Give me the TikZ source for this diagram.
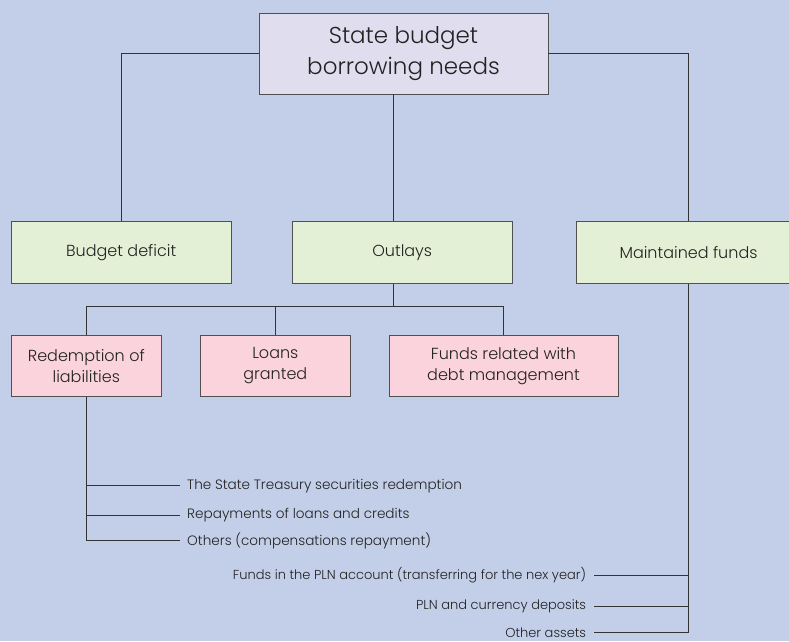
\documentclass[tikz,border=0pt]{standalone}
\usepackage{fontspec}
\setmainfont{Poppins}[UprightFont=* Light]
\definecolor{bgc}{HTML}{C3CFE8}
\definecolor{topfill}{HTML}{E0DDEF}
\definecolor{greenfill}{HTML}{E3F0D5}
\definecolor{pinkfill}{HTML}{FAD3DC}
\definecolor{boxline}{HTML}{505050}
\definecolor{linecol}{HTML}{333333}
\definecolor{txt}{HTML}{222222}
\begin{document}
\begin{tikzpicture}[x=1pt,y=-1pt,
  box/.style={draw=boxline, line width=0.9pt, align=center, inner sep=0pt, text=txt},
  topbox/.style={box, fill=topfill, minimum width=289pt, minimum height=81pt, font=\fontsize{23}{31.5}\selectfont},
  greenbox/.style={box, fill=greenfill, minimum width=220.3pt, minimum height=61.3pt, font=\fontsize{16}{20}\selectfont},
  pinkbox/.style={box, fill=pinkfill, minimum width=150.7pt, minimum height=61.4pt, font=\fontsize{16}{21}\selectfont},
  item/.style={font=\fontsize{13}{16}\selectfont, inner xsep=7pt, inner ysep=0pt, text=txt},
  link/.style={draw=linecol, line width=0.9pt}]
\useasboundingbox (0,0) rectangle (789,641);
\clip (0,0) rectangle (789,641);
\fill[bgc] (0,0) rectangle (789,641);

\node[topbox] (top) at (403.5,53.5) {State budget\\borrowing needs};
\node[greenbox] (bd) at (121.2,252.4) {Budget deficit};
\node[greenbox] (out) at (402.2,252.4) {Outlays};
\node[greenbox, minimum width=224pt] (mf) at (688.5,252.4) {Maintained funds};
\node[pinkbox] (red) at (86.3,366) {Redemption of\\liabilities};
\node[pinkbox] (loan) at (275.3,366) {Loans\\granted};
\node[pinkbox, minimum width=229pt] (fr) at (503.5,366) {Funds related with\\debt management};

\node[item, anchor=west, font=\fontsize{13.6}{16}\selectfont] (i1) at (180,485.7) {The State Treasury securities redemption};
\node[item, anchor=west, font=\fontsize{13.6}{16}\selectfont] (i2) at (180,515) {Repayments of loans and credits};
\node[item, anchor=west, font=\fontsize{13.6}{16}\selectfont] (i3) at (180,540.7) {Others (compensations repayment)};

\node[item, anchor=east, inner xsep=8pt] (j1) at (594.3,575) {Funds in the PLN account (transferring for the nex year)};
\node[item, anchor=east, inner xsep=8pt] (j2) at (594.3,606.5) {PLN and currency deposits};
\node[item, anchor=east, inner xsep=8pt] (j3) at (594.3,632.5) {Other assets};

\coordinate (busy) at (0,306.3);
\coordinate (oj) at ([xshift=-8.5pt]out.north);
\coordinate (ob) at ([xshift=-8.5pt]out.south);

\draw[link] (top.west) -| (bd.north);
\draw[link] (top.east) -| (mf.north);
\draw[link] (oj |- top.south) -- (oj);
\draw[link] (ob) -- (ob |- busy);
\draw[link] (red.north) -- (red.north |- busy) -| (fr.north);
\draw[link] (loan.north) -- (loan.north |- busy);

\draw[link] (red.south) |- (i3.west);
\draw[link] (i1.west) -- (i1.west -| red.south);
\draw[link] (i2.west) -- (i2.west -| red.south);

\draw[link] (mf.south) |- (j3.east);
\draw[link] (j1.east) -- (j1.east -| mf.south);
\draw[link] (j2.east) -- (j2.east -| mf.south);
\end{tikzpicture}
\end{document}
